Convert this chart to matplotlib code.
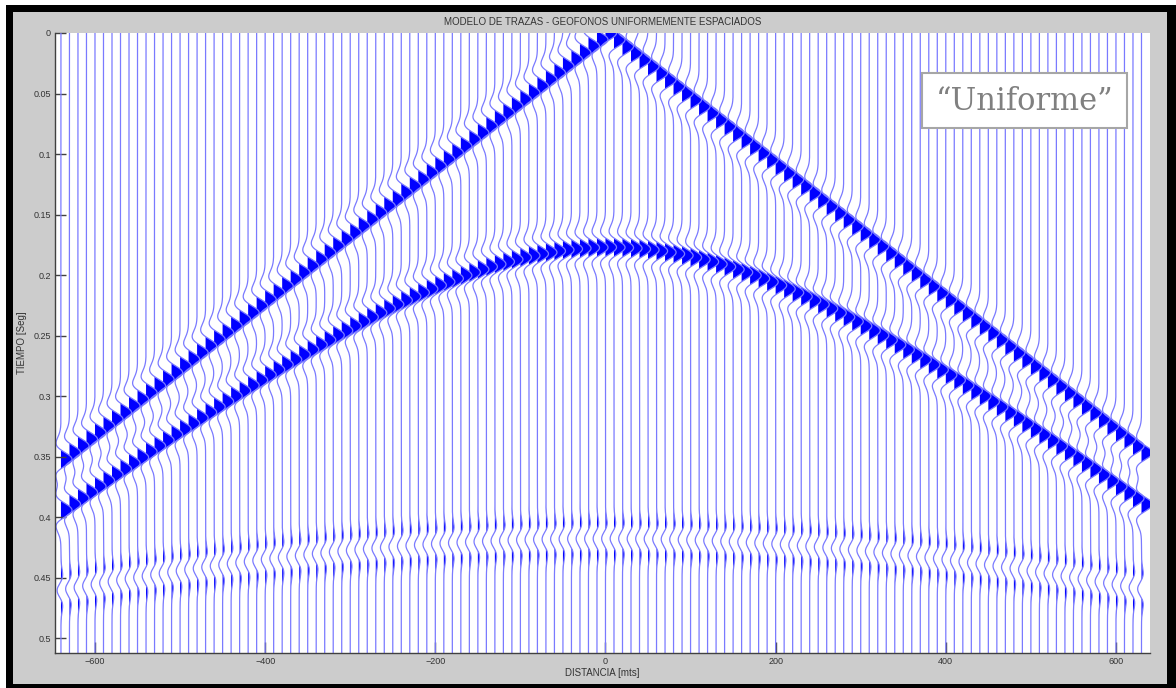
import numpy as np
import matplotlib
matplotlib.use('Agg')
import matplotlib.pyplot as plt
from matplotlib.patches import Rectangle

# geophone positions (uniform spacing, metres) and time axis (s)
offsets = np.arange(-640, 640, 10)
t = np.arange(0, 0.512, 0.0005)

# events: direct wave, first reflection, deep (negative) reflection
event_t0 = [0.0, 0.177, 0.4175]
event_vel = [1818.0, 1818.0, 3300.0]
event_amp = [13.0, 13.0, -4.5]
event_freq = [29.0, 29.0, 30.0]

x_ticks = [-600, -400, -200, 0, 200, 400, 600]
y_ticks = [0, 0.05, 0.1, 0.15, 0.2, 0.25, 0.3, 0.35, 0.4, 0.45, 0.5]
y_ticklabels = ['0', '0.05', '0.1', '0.15', '0.2', '0.25', '0.3', '0.35', '0.4', '0.45', '0.5']


def ricker(tt, f):
    a = (np.pi * f * tt) ** 2
    return (1 - 2 * a) * np.exp(-a)


plt.rcParams['font.family'] = ['Liberation Sans', 'DejaVu Sans']

fig = plt.figure(figsize=(11.76, 6.88), dpi=100)
fig.patch.set_facecolor('white')

# black frame with grey inside, like the screenshot
W, H = 1176.0, 688.0
fig.patches.append(Rectangle((6 / W, 0), 1 - 6 / W, 1 - 5 / H, transform=fig.transFigure,
                             facecolor='black', edgecolor='none', zorder=-10))
fig.patches.append(Rectangle((13 / W, 4 / H), (1167 - 13) / W, (684 - 12) / H,
                             transform=fig.transFigure, facecolor='#cccccc',
                             edgecolor='none', zorder=-9))

ax = fig.add_axes([55 / W, 1 - 653 / H, (1150 - 55) / W, (653 - 33) / H])
ax.set_facecolor('white')

for x0 in offsets:
    trace = np.zeros_like(t)
    for t0, v, amp, f in zip(event_t0, event_vel, event_amp, event_freq):
        te = np.sqrt(t0 ** 2 + (x0 / v) ** 2)
        trace += amp * ricker(t - te, f)
    ax.fill_betweenx(t, x0, x0 + trace, where=trace > 0, interpolate=True,
                     color='#0000ff', lw=0)
    ax.plot(x0 + trace, t, color='#7a7aff', lw=0.9)

ax.set_xlim(-647, 640)
ax.set_ylim(0.512, 0)
ax.set_xticks(x_ticks)
ax.set_yticks(y_ticks)
ax.set_yticklabels(y_ticklabels)
ax.tick_params(direction='in', length=8, width=1, color='#404040',
               labelsize=6.5, labelcolor='#333333', pad=3)
for s in ['top', 'right']:
    ax.spines[s].set_visible(False)
for s in ['left', 'bottom']:
    ax.spines[s].set_color('#404040')
    ax.spines[s].set_linewidth(1)

cx = (55 + 1150) / 2 / W
fig.text(cx, 1 - 22 / H, 'MODELO DE TRAZAS - GEOFONOS UNIFORMEMENTE ESPACIADOS',
         ha='center', va='center', fontsize=7, color='#333333')
fig.text(cx, 1 - 673 / H, 'DISTANCIA [mts]', ha='center', va='center',
         fontsize=7, color='#333333')
fig.text(22 / W, 1 - 343 / H, 'TIEMPO [Seg]', ha='center', va='center',
         rotation=90, fontsize=7, color='#333333')

# label box
fig.patches.append(Rectangle((922 / W, 1 - 128 / H), (1127 - 922) / W, (128 - 73) / H,
                             transform=fig.transFigure, facecolor='white',
                             edgecolor='#a6a6a6', lw=1.5, zorder=5))
fig.text(1025 / W, 1 - 101 / H, '\u201cUniforme\u201d', ha='center', va='center',
         fontsize=22, family='DejaVu Serif', color='#808080', zorder=6)

fig.savefig('out.png', dpi=100)
